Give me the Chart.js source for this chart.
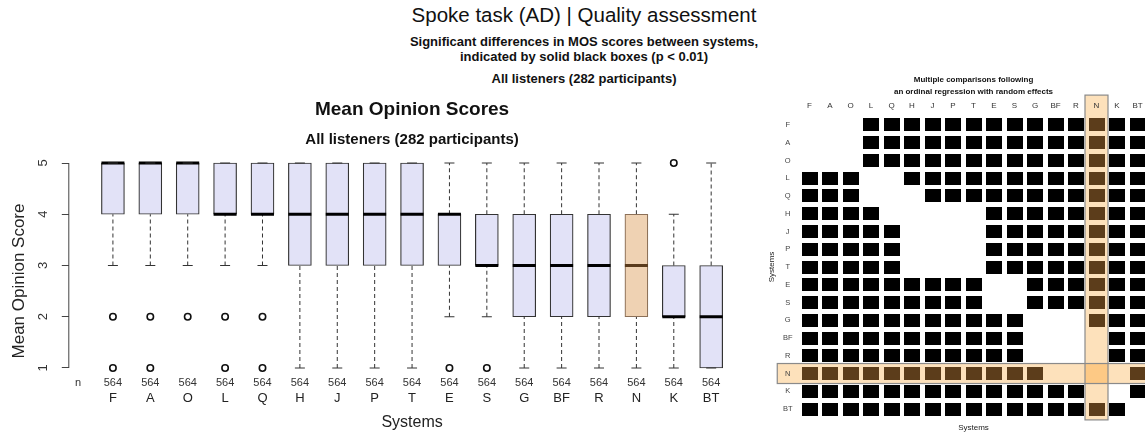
<!DOCTYPE html>
<html>
<head>
<meta charset="utf-8">
<script src="https://cdn.jsdelivr.net/npm/chart.js@4.4.1/dist/chart.umd.min.js"></script>
<style>
  body { margin: 0; width: 1145px; height: 434px; overflow: hidden; position: relative; background: #fff;
         font-family: "Liberation Sans", Arial, Helvetica, sans-serif; color: #111; }
  .hd { position: absolute; left: 0; width: 1168px; text-align: center; white-space: nowrap; }
  #t1 { top: 2px; font-size: 20.5px; line-height: 26px; }
  #t2 { top: 34px; font-size: 13px; line-height: 16px; font-weight: bold; }
  #t3 { top: 49px; font-size: 13px; line-height: 16px; font-weight: bold; }
  #t4 { top: 71px; font-size: 13px; line-height: 16px; font-weight: bold; }
  #boxCanvas { position: absolute; left: 0; top: 88px; }
  #matCanvas { position: absolute; left: 760px; top: 70px; }
</style>
</head>
<body>
<div class="hd" id="t1">Spoke task (AD) | Quality assessment</div>
<div class="hd" id="t2">Significant differences in MOS scores between systems,</div>
<div class="hd" id="t3">indicated by solid black boxes (p &lt; 0.01)</div>
<div class="hd" id="t4">All listeners (282 participants)</div>
<canvas id="boxCanvas" width="770" height="346"></canvas>
<canvas id="matCanvas" width="400" height="364"></canvas>
<script>
// ===============================
// 資料
// ===============================
const systems = ["F", "A", "O", "L", "Q", "H", "J", "P", "T", "E", "S", "G", "BF", "R", "N", "K", "BT"];
const counts = [564, 564, 564, 564, 564, 564, 564, 564, 564, 564, 564, 564, 564, 564, 564, 564, 564];
const whiskLo = [3, 3, 3, 3, 3, 1, 1, 1, 1, 2, 2, 1, 1, 1, 1, 1, 1];
const q1 = [4, 4, 4, 4, 4, 3, 3, 3, 3, 3, 3, 2, 2, 2, 2, 2, 1];
const median = [5, 5, 5, 4, 4, 4, 4, 4, 4, 4, 3, 3, 3, 3, 3, 2, 2];
const q3 = [5, 5, 5, 5, 5, 5, 5, 5, 5, 4, 4, 4, 4, 4, 4, 3, 3];
const whiskHi = [5, 5, 5, 5, 5, 5, 5, 5, 5, 5, 5, 5, 5, 5, 5, 4, 5];
const outliers = [[2, 1], [2, 1], [2], [2, 1], [2, 1], [], [], [], [], [1], [1], [], [], [], [], [5], []];
const highlight = "N";

// 顯著差異矩陣（1 = 黑色方塊）
const sigRows = [
  "00011111111111111", // F
  "00011111111111111", // A
  "00011111111111111", // O
  "11100111111111111", // L
  "11100011111111111", // Q
  "11110000011111111", // H
  "11111000011111111", // J
  "11111000011111111", // P
  "11111000011111111", // T
  "11111111100111111", // E
  "11111111100111111", // S
  "11111111111000111", // G
  "11111111111000011", // BF
  "11111111111000011", // R
  "11111111111100001", // N
  "11111111111111001", // K
  "11111111111111110"  // BT
];

const FONT = '"Liberation Sans", Arial, Helvetica, sans-serif';
Chart.defaults.font.family = FONT;
Chart.defaults.color = "#222";

const BOX = "#e2e2f7", BOX_HI = "#efd2b3", MED_HI = "#5a3b1c";
const hiIdx = systems.indexOf(highlight);

// ===============================
// 盒鬚圖
// ===============================
const boxData = systems.map((s, i) => ({ x: i + 1, y: [q1[i], q3[i]] }));
const medData = systems.map((s, i) => ({ x: i + 1, y: median[i] }));
const capData = [];
const whiskData = [];
systems.forEach((s, i) => {
  capData.push({ x: i + 1, y: whiskLo[i] }, { x: i + 1, y: whiskHi[i] });
  if (whiskLo[i] < q1[i]) whiskData.push({ x: i + 1, y: whiskLo[i] }, { x: i + 1, y: q1[i] });
  whiskData.push({ x: i + 1, y: null });
  if (whiskHi[i] > q3[i]) whiskData.push({ x: i + 1, y: q3[i] }, { x: i + 1, y: whiskHi[i] });
  whiskData.push({ x: i + 1, y: null });
});
const outData = [];
outliers.forEach((list, i) => list.forEach(v => outData.push({ x: i + 1, y: v })));

// y 軸線（只畫 1~5）、n 與樣本數、y 軸標題
const boxExtras = {
  id: "boxExtras",
  afterDraw(chart) {
    const { ctx, scales: { x, y } } = chart;
    const ax = chart.chartArea.left;
    ctx.save();
    ctx.strokeStyle = "#444";
    ctx.lineWidth = 1;
    ctx.beginPath();
    ctx.moveTo(ax, y.getPixelForValue(1));
    ctx.lineTo(ax, y.getPixelForValue(5));
    ctx.stroke();

    ctx.fillStyle = "#333";
    ctx.font = "11px " + FONT;
    ctx.textAlign = "center";
    ctx.textBaseline = "middle";
    ctx.fillText("n", 78, 383 - 88);
    counts.forEach((c, i) => ctx.fillText(String(c), x.getPixelForValue(i + 1), 383 - 88));

    ctx.translate(19, 281 - 88);
    ctx.rotate(-Math.PI / 2);
    ctx.fillStyle = "#222";
    ctx.font = "17px " + FONT;
    ctx.fillText("Mean Opinion Score", 0, 0);
    ctx.restore();
  }
};

new Chart(document.getElementById("boxCanvas"), {
  type: "bar",
  data: {
    datasets: [
      {
        type: "line", data: whiskData, borderColor: "#333", borderWidth: 1, borderDash: [4, 3],
        pointRadius: 0, spanGaps: false, order: 4
      },
      {
        type: "bar", data: boxData, barThickness: 23, borderSkipped: false, borderWidth: 1.2,
        backgroundColor: systems.map(s => s === highlight ? BOX_HI : BOX),
        borderColor: systems.map(s => s === highlight ? "#8c7058" : "#333"), order: 3
      },
      {
        type: "scatter", data: medData, pointStyle: "line", pointRadius: 11.5, borderWidth: 3.2,
        borderColor: systems.map(s => s === highlight ? MED_HI : "#000"), order: 2
      },
      {
        type: "scatter", data: capData, pointStyle: "line", pointRadius: 5, borderWidth: 1,
        borderColor: "#333", order: 1
      },
      {
        type: "scatter", data: outData, pointStyle: "circle", pointRadius: 3.2, borderWidth: 1.6,
        borderColor: "#111", backgroundColor: "rgba(0,0,0,0)", order: 1
      }
    ]
  },
  options: {
    responsive: false,
    animation: false,
    events: [],
    layout: { padding: { left: 0, right: 14.1, top: 0, bottom: 0 } },
    plugins: {
      legend: { display: false },
      tooltip: { enabled: false },
      title: {
        display: true, fullSize: false, text: "Mean Opinion Scores", color: "#111",
        font: { size: 19, weight: "bold", lineHeight: 1.2 }, padding: { top: 10.6, bottom: 9.6 }
      },
      subtitle: {
        display: true, fullSize: false, text: "All listeners (282 participants)", color: "#111",
        font: { size: 15, weight: "bold", lineHeight: 1.2 }, padding: { top: 0, bottom: 5.8 }
      }
    },
    scales: {
      x: {
        type: "linear", offset: false, min: -0.18, max: 18.18,
        afterBuildTicks: s => { s.ticks = systems.map((_, i) => ({ value: i + 1 })); },
        afterFit: s => { s.height = 57.8; },
        ticks: {
          callback: (v, i) => systems[i], font: { size: 13 }, color: "#222",
          padding: 14, autoSkip: false, maxRotation: 0
        },
        grid: { display: false, drawTicks: false },
        border: { display: false },
        title: { display: true, text: "Systems", font: { size: 16 }, color: "#222", padding: { top: 0, bottom: 1.4 } }
      },
      y: {
        min: 0.84, max: 5.16,
        afterBuildTicks: s => { s.ticks = [1, 2, 3, 4, 5].map(v => ({ value: v })); },
        afterFit: s => { s.width = 68.8; },
        ticks: { minRotation: 90, maxRotation: 90, crossAlign: "center", padding: 15, font: { size: 13 }, color: "#333" },
        grid: { drawOnChartArea: false, drawTicks: true, tickLength: 7, color: "#444" },
        border: { display: false }
      }
    }
  },
  plugins: [boxExtras]
});

// ===============================
// 多重比較矩陣
// ===============================
function makeSquare(color) {
  const c = document.createElement("canvas");
  c.width = 16; c.height = 13;
  const g = c.getContext("2d");
  g.fillStyle = color;
  g.fillRect(0, 0, 16, 13);
  return c;
}
const sqBlack = makeSquare("#000");
const sqBrown = makeSquare("#5c3d1b");

const blackCells = [];
const brownCells = [];
sigRows.forEach((row, r) => {
  row.split("").forEach((v, c) => {
    if (v !== "1") return;
    const p = { x: c + 1, y: r + 1 };
    if (r === hiIdx || c === hiIdx) brownCells.push(p); else blackCells.push(p);
  });
});

// N 的行列底色
const bands = {
  id: "bands",
  beforeDraw(chart) {
    const { ctx, scales: { x, y } } = chart;
    const cx = x.getPixelForValue(hiIdx + 1), cy = y.getPixelForValue(hiIdx + 1);
    const top = y.getPixelForValue(0.5) - 21, bottom = y.getPixelForValue(17.5) + 2;
    const colRect = [cx - 11.5, top, 23, bottom - top];
    const rowRect = [x.getPixelForValue(0.5) - 22, cy - 10, chart.width, 20];
    ctx.save();
    ctx.fillStyle = "#fde1bb";
    ctx.fillRect(...colRect);
    ctx.fillRect(...rowRect);
    ctx.fillStyle = "#fdc985";
    ctx.fillRect(cx - 11.5, cy - 10, 23, 20);
    ctx.strokeStyle = "#8a8a8a";
    ctx.lineWidth = 1.2;
    ctx.strokeRect(...colRect);
    ctx.strokeRect(...rowRect);
    ctx.restore();
  }
};

new Chart(document.getElementById("matCanvas"), {
  type: "scatter",
  data: {
    datasets: [
      { data: blackCells, pointStyle: sqBlack, pointRadius: 8 },
      { data: brownCells, pointStyle: sqBrown, pointRadius: 8 }
    ]
  },
  options: {
    responsive: false,
    animation: false,
    events: [],
    layout: { padding: { left: 0, right: 12.25, top: 0, bottom: 0 } },
    plugins: {
      legend: { display: false },
      tooltip: { enabled: false },
      title: {
        display: true, fullSize: false, color: "#111",
        text: ["Multiple comparisons following", "an ordinal regression with random effects"],
        font: { size: 8, weight: "bold", lineHeight: 1.5 }, padding: { top: 4, bottom: 0 }
      }
    },
    scales: {
      x: {
        type: "linear", position: "top", min: 0.5, max: 17.5,
        afterBuildTicks: s => { s.ticks = systems.map((_, i) => ({ value: i + 1 })); },
        afterFit: s => { s.height = 18.1; },
        ticks: { callback: (v, i) => systems[i], font: { size: 8 }, color: "#333", padding: 5.3, autoSkip: false, maxRotation: 0 },
        grid: { display: false, drawTicks: false },
        border: { display: false }
      },
      x2: {
        type: "linear", position: "bottom", min: 0, max: 1,
        afterFit: s => { s.height = 16.1; },
        ticks: { display: false },
        grid: { display: false, drawTicks: false },
        border: { display: false },
        title: { display: true, text: "Systems", font: { size: 8 }, color: "#222", padding: { top: 0, bottom: 1.2 } }
      },
      y: {
        type: "linear", reverse: true, min: 0.5, max: 17.5,
        afterBuildTicks: s => { s.ticks = systems.map((_, i) => ({ value: i + 1 })); },
        afterFit: s => { s.width = 39.25; },
        ticks: { callback: (v, i) => systems[i], font: { size: 7.5 }, color: "#444", padding: 6.75, crossAlign: "center", autoSkip: false },
        grid: { display: false, drawTicks: false },
        border: { display: false },
        title: { display: true, text: "Systems", font: { size: 8 }, color: "#222", padding: { top: 7, bottom: 0 } }
      }
    }
  },
  plugins: [bands]
});
</script>
</body>
</html>
